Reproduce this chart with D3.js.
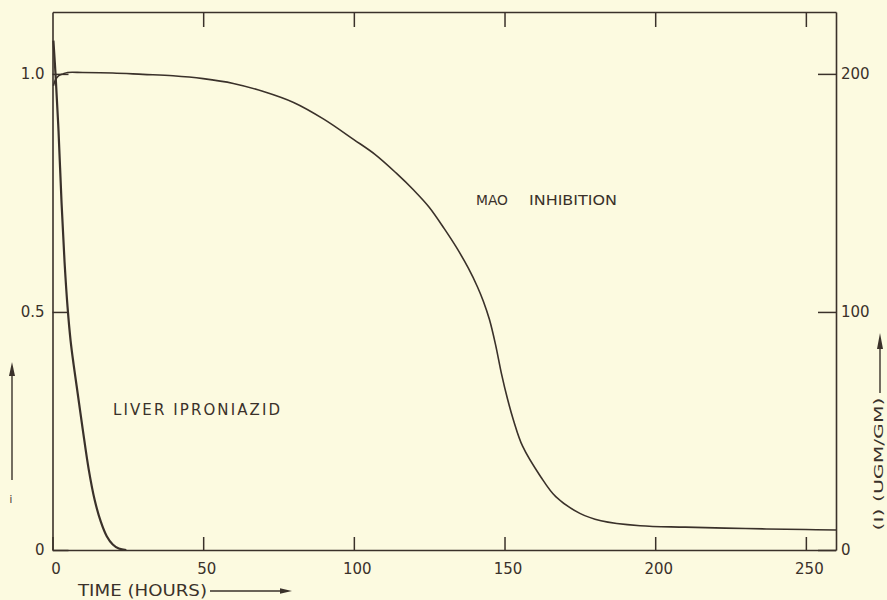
<!DOCTYPE html>
<html>
<head>
<meta charset="utf-8">
<script src="https://cdn.jsdelivr.net/npm/d3@7"></script>
<style>
  html, body { margin: 0; padding: 0; background: #fcfae0; }
  svg { display: block; }
  text { font-family: "DejaVu Sans", sans-serif; fill: #3a312a; }
</style>
</head>
<body>
<svg id="chart" width="887" height="600"></svg>
<script>
// ---- data ----
const xTicks = [0, 50, 100, 150, 200, 250];
const topTicks = [50, 100, 150, 200, 250];
const leftTicks = [0, 0.5, 1.0];
const rightTicks = [0, 100, 200];

// MAO inhibition (fraction, left axis)
const maoHours  = [0.3, 1, 2, 3.5, 5, 10, 20, 30, 40, 50, 60, 70, 80, 90, 100, 107, 114, 120, 125, 130, 134, 138, 141, 143, 145, 147, 149, 151, 153, 156, 162, 167, 175, 182, 195, 210, 230, 250, 260];
const maoValues = [0.975, 0.988, 0.996, 1.0, 1.003, 1.003, 1.002, 0.999, 0.996, 0.99, 0.98, 0.963, 0.94, 0.905, 0.862, 0.831, 0.792, 0.755, 0.72, 0.675, 0.636, 0.592, 0.553, 0.522, 0.484, 0.432, 0.37, 0.317, 0.272, 0.218, 0.154, 0.112, 0.077, 0.0615, 0.051, 0.048, 0.045, 0.043, 0.042];

// Liver iproniazid (ug/gm, right axis)
const liverHours  = [0.3, 1, 2, 3, 4, 5, 6, 7, 8, 10, 12, 14, 16, 18, 20, 22, 24.5];
const liverValues = [214, 200, 176, 146, 121, 102, 88, 78, 69, 51, 34, 21, 12, 5.8, 2.3, 0.6, 0];

const ink = "#3a312a";
const svg = d3.select("#chart");

const x = d3.scaleLinear().domain([0, 260]).range([52.5, 836]);
const yL = d3.scaleLinear().domain([0, 1.13]).range([550, 12]);
const yR = d3.scaleLinear().domain([0, 226]).range([550, 12]);

function styleAxis(g) {
  g.selectAll("path.domain").attr("stroke", ink).attr("stroke-width", 1.6);
  g.selectAll(".tick line").attr("stroke", ink).attr("stroke-width", 1.5);
  g.selectAll("text").attr("font-size", 15).attr("fill", ink)
    .attr("font-family", "DejaVu Sans, sans-serif");
}

// bottom axis
svg.append("g").attr("transform", "translate(0,550)")
  .call(d3.axisBottom(x).tickValues(xTicks).tickSizeInner(-13).tickSizeOuter(0).tickPadding(13)
        .tickFormat(d3.format("d")))
  .call(styleAxis)
  .call(g => g.selectAll("text").attr("dx", 3));

// top axis (no labels)
svg.append("g").attr("transform", "translate(0,12)")
  .call(d3.axisTop(x).tickValues(topTicks).tickSizeInner(-15).tickSizeOuter(0).tickFormat(""))
  .call(styleAxis);

// left axis
svg.append("g").attr("transform", `translate(${x(0)},0)`)
  .call(d3.axisLeft(yL).tickValues(leftTicks).tickSizeInner(-16).tickSizeOuter(0).tickPadding(8)
        .tickFormat(d => d === 0 ? "0" : d.toFixed(1)))
  .call(styleAxis);

// right axis
svg.append("g").attr("transform", `translate(${x(260)},0)`)
  .call(d3.axisRight(yR).tickValues(rightTicks).tickSizeInner(-18).tickSizeOuter(0).tickPadding(5)
        .tickFormat(d3.format("d")))
  .call(styleAxis);

// curves
const maoData = maoHours.map((h, i) => [h, maoValues[i]]);
const liverData = liverHours.map((h, i) => [h, liverValues[i]]);

svg.append("path").datum(maoData)
  .attr("fill", "none").attr("stroke", ink).attr("stroke-width", 1.6)
  .attr("d", d3.line().x(d => x(d[0])).y(d => yL(d[1])).curve(d3.curveCatmullRom.alpha(0.5)));

svg.append("path").datum(liverData)
  .attr("fill", "none").attr("stroke", ink).attr("stroke-width", 2.2)
  .attr("d", d3.line().x(d => x(d[0])).y(d => yR(d[1])).curve(d3.curveCatmullRom.alpha(0.5)));

// labels
svg.append("text").attr("x", 476).attr("y", 205).attr("font-size", 14)
  .attr("textLength", 32).attr("lengthAdjust", "spacingAndGlyphs").text("MAO");
svg.append("text").attr("x", 529).attr("y", 205).attr("font-size", 14)
  .attr("textLength", 88).attr("lengthAdjust", "spacingAndGlyphs").text("INHIBITION");

svg.append("text").attr("x", 113).attr("y", 415).attr("font-size", 15)
  .attr("textLength", 167).attr("lengthAdjust", "spacing").text("LIVER IPRONIAZID");

// x title + arrow
svg.append("text").attr("x", 78).attr("y", 596).attr("font-size", 15.5)
  .attr("textLength", 129).attr("lengthAdjust", "spacingAndGlyphs").text("TIME (HOURS)");
svg.append("line").attr("x1", 210).attr("x2", 282).attr("y1", 591).attr("y2", 591)
  .attr("stroke", ink).attr("stroke-width", 1.4);
svg.append("path").attr("d", "M280,588.3 L292,591 L280,593.7 Z").attr("fill", ink);

// right title + arrow
svg.append("text").attr("transform", "translate(878,464) rotate(-90)")
  .attr("text-anchor", "middle").attr("dy", "0.36em").attr("font-size", 13)
  .attr("textLength", 133).attr("lengthAdjust", "spacingAndGlyphs").text("(I) (UGM/GM)");
svg.append("line").attr("x1", 880).attr("x2", 880).attr("y1", 393).attr("y2", 345)
  .attr("stroke", ink).attr("stroke-width", 1.4);
svg.append("path").attr("d", "M877,349 L880,333 L883,349 Z").attr("fill", ink);

// left arrow + fragment
svg.append("line").attr("x1", 12).attr("x2", 12).attr("y1", 480).attr("y2", 372)
  .attr("stroke", ink).attr("stroke-width", 1.4);
svg.append("path").attr("d", "M9,376 L12,362 L15,376 Z").attr("fill", ink);
svg.append("text").attr("x", 11).attr("y", 503).attr("font-size", 10)
  .attr("text-anchor", "middle").text("i");
</script>
</body>
</html>
